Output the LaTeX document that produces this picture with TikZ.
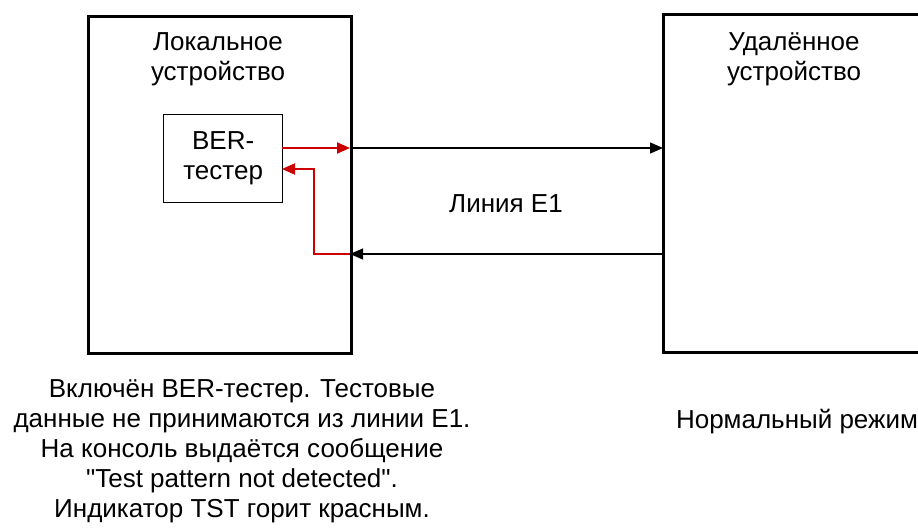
\documentclass[tikz,border=0pt]{standalone}
\usepackage{fontspec}
\setmainfont{Liberation Sans}
\usetikzlibrary{arrows.meta}
\begin{document}
\begin{tikzpicture}[x=1pt,y=-1pt,
  lbl/.style={align=center,font=\fontsize{26}{30}\selectfont,inner sep=0pt},
  dev/.style={draw,line width=3pt},
  conn/.style={line width=1.3pt,-{Triangle[length=13pt,width=11pt]}},
  redconn/.style={conn,draw={rgb,255:red,204;green,0;blue,0},line width=2pt}]
\useasboundingbox (0,0) rectangle (918,532);
\node[dev,minimum width=263pt,minimum height=337pt,anchor=north west] (loc) at (87,15) {};
\draw[line width=3pt] (1000,15) -- (663,15) -- (663,352) -- (1000,352);
\node[draw,line width=1.3pt,minimum width=119pt,minimum height=88pt,anchor=north west] (ber) at (163,114) {};
\node[lbl] at (ber.center) {BER-\\тестер};
\node[lbl,anchor=north] (locl) at (218,32) {Локальное\\устройство};
\node[lbl,anchor=north] (reml) at (794,32) {Удалённое\\устройство};
\coordinate (a1) at (350,148);
\coordinate (a2) at (663,148);
\coordinate (b1) at (663,254);
\coordinate (b2) at (350,254);
\coordinate (c1) at (314,254);
\coordinate (c2) at (314,169);
\coordinate (c3) at (282,169);
\coordinate (c0) at (282,148);
\draw[conn] (a1) -- (a2);
\draw[conn] (b1) -- (b2);
\draw[redconn] (c0) -- (a1);
\draw[redconn] (b2) -- (c1) -- (c2) -- (c3);
\node[lbl,anchor=base] (line) at (506,212) {Линия E1};
\node[lbl,anchor=north] (note) at (242,379) {Включён BER-тестер. Тестовые\\данные не принимаются из линии E1.\\На консоль выдаётся сообщение\\\textquotedbl Test pattern not detected\textquotedbl.\\Индикатор TST горит красным.};
\node[lbl,anchor=base] (norm) at (797,428) {Нормальный режим};
\end{tikzpicture}
\end{document}
